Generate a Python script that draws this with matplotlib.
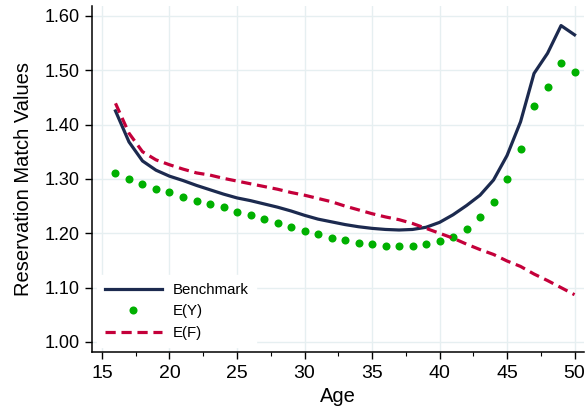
import matplotlib
matplotlib.use("Agg")
import matplotlib.pyplot as plt
from matplotlib.ticker import MultipleLocator, FormatStrFormatter

plt.rcParams['font.family'] = ['Liberation Sans', 'DejaVu Sans']

ages = list(range(16, 51))
benchmark = [1.425, 1.368, 1.333, 1.316, 1.305, 1.297, 1.288, 1.280, 1.272, 1.265,
             1.260, 1.254, 1.248, 1.241, 1.233, 1.226, 1.221, 1.216, 1.212, 1.209,
             1.207, 1.206, 1.207, 1.211, 1.220, 1.234, 1.251, 1.270, 1.298, 1.343,
             1.405, 1.494, 1.531, 1.582, 1.565]
e_y = [1.311, 1.299, 1.291, 1.282, 1.275, 1.267, 1.260, 1.254, 1.248, 1.240,
       1.233, 1.226, 1.218, 1.211, 1.204, 1.198, 1.192, 1.187, 1.183, 1.180,
       1.177, 1.176, 1.177, 1.180, 1.185, 1.194, 1.208, 1.229, 1.258, 1.299,
       1.355, 1.434, 1.469, 1.513, 1.497]
e_f = [1.439, 1.384, 1.350, 1.335, 1.326, 1.318, 1.311, 1.307, 1.301, 1.296,
       1.291, 1.286, 1.281, 1.275, 1.270, 1.264, 1.258, 1.250, 1.243, 1.236,
       1.230, 1.225, 1.218, 1.209, 1.200, 1.191, 1.180, 1.170, 1.161, 1.149,
       1.139, 1.125, 1.113, 1.100, 1.087]

navy = '#1c2a4f'
green = '#00b000'
red = '#c4003a'
grid_c = '#e6eff1'

fig = plt.figure(figsize=(5.87, 4.16), dpi=100)
ax = fig.add_axes([92/587, 1 - 352/416, (584-92)/587, (352-6)/416])

ax.plot(ages, benchmark, color=navy, lw=2.3, label='Benchmark', zorder=3)
ax.plot(ages, e_y, linestyle='none', marker='o', markersize=5.8, color=green,
        markeredgewidth=0, label='E(Y)', zorder=3)
ax.plot(ages, e_f, color=red, lw=2.3, dashes=(3.2, 1.8), label='E(F)', zorder=3)

ax.set_xlim(14.26, 50.7)
ax.set_ylim(0.9816, 1.618)
ax.xaxis.set_major_locator(MultipleLocator(5))
ax.xaxis.set_minor_locator(MultipleLocator(2.5))
ax.yaxis.set_major_locator(MultipleLocator(0.1))
ax.yaxis.set_major_formatter(FormatStrFormatter('%.2f'))

ax.grid(True, which='major', color=grid_c, lw=1.0, zorder=0)
ax.set_axisbelow(True)
for s in ['top', 'right']:
    ax.spines[s].set_visible(False)
for s in ['left', 'bottom']:
    ax.spines[s].set_linewidth(1.1)
    ax.spines[s].set_color('black')
ax.tick_params(axis='both', which='major', length=5, width=1.0, pad=4)
ax.tick_params(axis='y', labelsize=13)
ax.tick_params(axis='x', labelsize=14)
ax.tick_params(axis='x', which='minor', length=3, width=0.8)

ax.set_xlabel('Age', fontsize=14.5, labelpad=4)
ax.set_ylabel('Reservation Match Values', fontsize=14.5, labelpad=8)

leg = ax.legend(loc='lower left', bbox_to_anchor=(0.005, 0.005), frameon=True,
                fontsize=10.8, handlelength=3.8, handletextpad=0.7,
                labelspacing=0.5, borderpad=0.5, borderaxespad=0.2)
leg.get_frame().set_facecolor('white')
leg.get_frame().set_edgecolor('white')
leg.get_frame().set_alpha(1.0)
leg.get_frame().set_boxstyle('square', pad=0)

fig.savefig('out.png', dpi=100)
